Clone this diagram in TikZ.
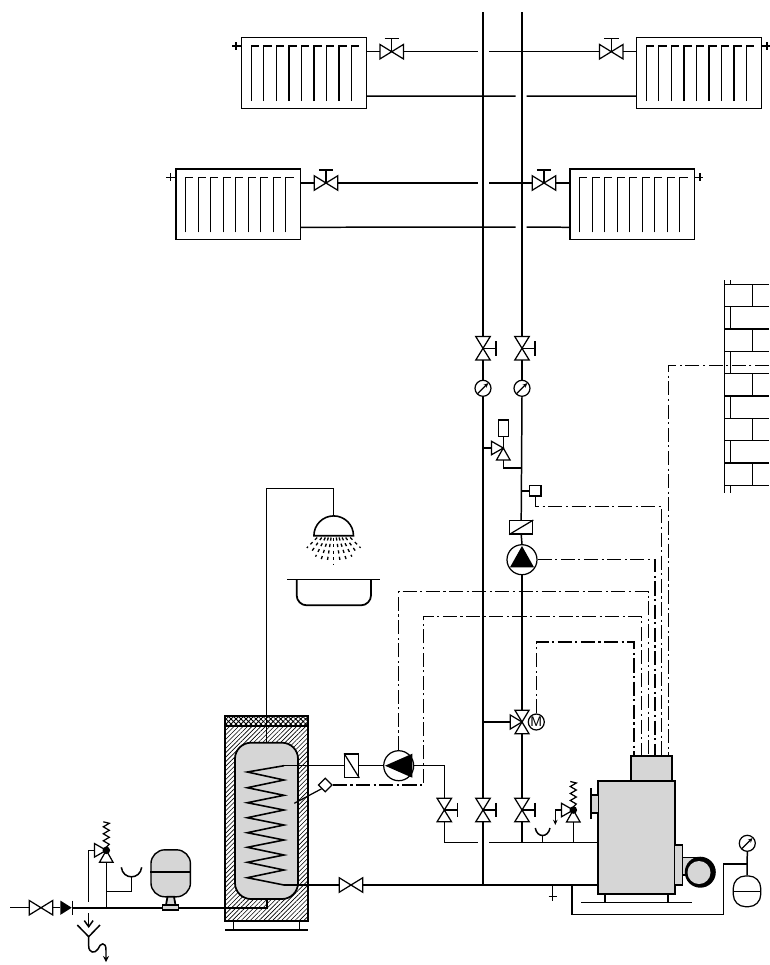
\documentclass[tikz,border=0pt]{standalone}
\usepackage{fontspec}
\setmainfont{Liberation Sans}
\usetikzlibrary{shapes,positioning,calc,patterns.meta,arrows.meta}

\definecolor{unitgray}{gray}{0.84}

\tikzset{
    pipe/.style={line width=0.85pt},
    fitting/.style={line width=0.7pt, fill=white},
    signal/.style={line width=0.6pt, dash pattern=on 8pt off 2pt on 1.2pt off 2pt},
    gaugebody/.style={draw, circle, line width=0.7pt, fill=white, inner sep=0pt, minimum size=0.32cm},
    pumpbody/.style={draw, circle, line width=0.7pt, fill=white, inner sep=0pt, minimum size=0.6cm},
    radiator/.pic={
        \draw [line width=0.9pt, fill=white] (0,0) rectangle (124.6,70.6);
        \foreach \i in {0,...,8}
            \draw [line width=0.7pt] (9.6+12.53*\i,63.3) -- (9.6+12.53*\i,8.3) -- ++(7.7,0);
        \coordinate (-vl) at (0,8.3);
        \coordinate (-vr) at (124.6,8.3);
        \coordinate (-wf) at (0,14);
        \coordinate (-ef) at (124.6,14);
        \coordinate (-wr) at (0,58.3);
        \coordinate (-er) at (124.6,58.3);
    },
    gatevalve/.pic={
        \draw [fitting] (-11.7,-7.2) -- (0,0) -- (-11.7,7.2) -- cycle;
        \draw [fitting] (11.7,-7.2) -- (0,0) -- (11.7,7.2) -- cycle;
        \coordinate (-in) at (-11.7,0);
        \coordinate (-out) at (11.7,0);
    },
    handvalve/.pic={
        \draw [line width=0.7pt] (0,0) -- (0,-13) (-7.2,-13) -- (7.2,-13);
        \draw [fitting] (-11.7,-7.2) -- (0,0) -- (-11.7,7.2) -- cycle;
        \draw [fitting] (11.7,-7.2) -- (0,0) -- (11.7,7.2) -- cycle;
        \coordinate (-in) at (-11.7,0);
        \coordinate (-out) at (11.7,0);
    },
    mixvalve/.pic={
        \draw [fitting] (-7,-11.7) -- (0,0) -- (7,-11.7) -- cycle;
        \draw [fitting] (-7,11.7) -- (0,0) -- (7,11.7) -- cycle;
        \draw [fitting] (-11.7,-7) -- (0,0) -- (-11.7,7) -- cycle;
        \coordinate (-in) at (0,-11.7);
        \coordinate (-out) at (0,11.7);
        \coordinate (-left) at (-11.7,0);
    },
    reliefvalve/.pic={
        \draw [fitting] (-11.7,-6.7) -- (0,0) -- (-11.7,6.7) -- cycle;
        \draw [fitting] (-6.8,12) -- (0,0) -- (6.8,12) -- cycle;
        \coordinate (-left) at (-11.7,0);
        \coordinate (-out) at (0,12);
    },
    safetyvalve/.pic={
        \draw [fitting] (-11.7,-6.7) -- (0,0) -- (-11.7,6.7) -- cycle;
        \draw [fitting] (-6.8,12) -- (0,0) -- (6.8,12) -- cycle;
        \draw [line width=0.7pt] (0,-3) -- (3,-6) -- (-3,-9.5) -- (3,-13) -- (-3,-16.5) -- (3,-20) -- (-3,-23.5) -- (3,-27) -- (-3,-28.5);
        \fill (0,0) circle (3.8);
        \coordinate (-left) at (-11.7,0);
        \coordinate (-out) at (0,12);
    },
    gauge/.pic={
        \node [gaugebody] (-c) at (0,0) {};
        \draw [line width=0.7pt, -{Stealth[length=2.6pt, width=2.4pt]}] (-5.2,5.2) -- (5.2,-5.2);
    }
}

\begin{document}
\begin{tikzpicture}[x=0.02cm, y=-0.02cm, pipe]
    \useasboundingbox (0,0) rectangle (769,965);

    % Radiators
    \pic (radA) at (241.7,37.7) {radiator};
    \pic (radB) at (636.7,37.7) {radiator};
    \pic (radC) at (176,169) {radiator};
    \pic (radD) at (570,169) {radiator};
    \foreach \rad in {radA,radC}
        \draw (\rad-vl) -- ++(-10,0) ++(4.3,-4) -- ++(0,8);
    \foreach \rad in {radB,radD}
        \draw (\rad-vr) -- ++(8.3,0) ++(-2.7,-4) -- ++(0,8);

    % Radiator valves
    \pic (valveA) at (391.7,51.7) {handvalve};
    \pic (valveB) at (611.3,51.7) {handvalve};
    \pic (valveC) at (326,183) {handvalve};
    \pic (valveD) at (544,183) {handvalve};

    % Radiator connections
    \draw (radA-ef) -- (valveA-in);
    \draw (valveA-out) -- (477.7,51.7);
    \draw (489,51.7) -- (valveB-in);
    \draw (valveB-out) -- (radB-wf);
    \draw (radA-er) -- (515.7,96);
    \draw (526.7,96) -- (radB-wr);
    \draw (radC-ef) -- (valveC-in);
    \draw (valveC-out) -- (477.7,183);
    \draw (489,183) -- (valveD-in);
    \draw (valveD-out) -- (radD-wf);
    \draw (radC-er) -- (515.7,227);
    \draw (526.7,227) -- (radD-wr);

    % Riser fittings
    \pic [rotate=-90] (valveE) at (483,348.3) {handvalve};
    \pic [rotate=-90] (valveF) at (522,348.3) {handvalve};
    \pic (gaugeE) at (483,388.3) {gauge};
    \pic (gaugeF) at (522,388.3) {gauge};
    \pic (relief) at (503.3,448) {reliefvalve};
    \node [draw, line width=0.7pt, inner sep=0pt, minimum width=0.2cm, minimum height=0.33cm] (actuator) at (503.3,428.3) {};
    \node [draw, line width=0.7pt, fill=white, inner sep=0pt, minimum width=0.226cm, minimum height=0.206cm] (sensor) at (535.3,490.8) {};
    \node [draw, line width=0.7pt, inner sep=0pt, minimum width=0.46cm, minimum height=0.266cm] (flowB) at (521.2,527.3) {};
    \draw [line width=0.7pt] (flowB.south west) -- (flowB.north east);
    \node [pumpbody] (pumpB) at (522,559.7) {};
    \fill (522,546) -- (534,567.3) -- (510,567.3) -- cycle;
    \pic (mixer) at (522,722) {mixvalve};
    \node [gaugebody] (motor) at (536.3,722) {\fontsize{8}{8}\selectfont M};
    \pic [rotate=-90] (valveH) at (444.3,810) {handvalve};
    \pic [rotate=-90] (valveJ) at (483,810) {handvalve};
    \pic [rotate=-90] (valveK) at (522,810) {handvalve};

    % Risers
    \draw (483,12) -- (valveE-in);
    \draw (522,12) -- (valveF-in);
    \draw (valveE-out) -- (gaugeE-c.north);
    \draw (valveF-out) -- (gaugeF-c.north);
    \draw (gaugeE-c.south) -- (valveJ-in);
    \draw (gaugeF-c.south) -- (flowB.north);
    \draw (flowB.south) -- (pumpB.north);
    \draw (pumpB.south) -- (mixer-in);
    \draw (mixer-out) -- (valveK-in);
    \draw (483,448) -- (relief-left);
    \draw (relief-out) |- (522,468);
    \draw (actuator.south) -- (503.3,448);
    \draw (522,490.8) -- (sensor.west);
    \draw (483,722) -- (mixer-left);
    \draw (valveJ-out) -- (483,885);
    \draw (valveK-out) -- (522,842.7);

    % Boiler
    \draw [line width=1pt, fill=unitgray] (631,756.3) rectangle (672.3,780.7);
    \draw [line width=1pt, fill=unitgray] (598.3,780.7) rectangle (674.7,894.3);
    \draw [line width=0.9pt, fill=unitgray] (591,795) rectangle (598.3,813);
    \draw [line width=1pt] (591,788.3) -- (591,819.3);
    \draw [line width=0.9pt, fill=unitgray] (674.7,845) rectangle (682.3,885);
    \draw [line width=0.7pt, fill=unitgray] (682.3,857.7) rectangle (701,875);
    \fill (700.3,872.2) circle (15.5);
    \fill [unitgray] (699,872.5) circle (11.5);
    \draw (605,894.3) -- (605,902.7);
    \draw (668,894.3) -- (668,902.7);
    \draw (581,902.7) -- (692.3,902.7);

    % Boiler safety group
    \pic (safetyB) at (573.3,810) {safetyvalve};
    \draw (safetyB-out) -- (573.3,842.7);
    \draw [-{Stealth[length=3pt, width=2.6pt]}] (safetyB-left) -- (555.3,810) -- (555.3,825);
    \draw (535.3,828) .. controls (537,838) and (548,838) .. (550,828);
    \draw (542.7,835.5) -- (542.7,842.7);
    \draw (552.7,885) -- (552.7,900.7);
    \draw (548.7,896.7) -- (556.7,896.7);
    \pic (gaugeM) at (747.3,843.3) {gauge};
    \node [draw, line width=0.7pt, fill=white, rounded corners=0.24cm, inner sep=0pt, minimum width=0.548cm, minimum height=0.614cm] (vesselB) at (747,891.3) {};
    \draw (vesselB.west |- 0,891.7) -- (vesselB.east |- 0,891.7);
    \draw (gaugeM-c.south) -- (vesselB.north);
    \draw (572,885) -- (572,914.7) -- (723.7,914.7) -- (723.7,864) -- (747.3,864);

    % Boiler connections
    \draw (valveH-out) -- (444.3,842.7) -- (477.7,842.7);
    \draw (489,842.7) -- (598.3,842.7);

    % Storage tank
    \filldraw [line width=1pt, fill=white, postaction={pattern={Lines[angle=45, distance=1.8pt, line width=0.35pt]}}] (225,716) rectangle (308.3,921);
    \draw [line width=1pt, fill=white, postaction={pattern={Hatch[angle=45, distance=2pt, line width=0.5pt]}}] (225,716) rectangle (308.3,725.7);
    \draw [line width=1pt, fill=unitgray, rounded corners=0.32cm] (235,742.7) rectangle (298,899);
    \draw (233.3,921) -- (233.3,930);
    \draw (299.3,921) -- (299.3,930);
    \draw (225,930) -- (308.3,930);

    % Coil
    \draw [line width=0.9pt] (284,765.7) -- (247.3,772) -- (284,780) -- (247.3,787.7) -- (284,795.3) -- (247.3,802.7) -- (284,810) -- (247.3,817.7) -- (284,825) -- (247.3,832.7) -- (284,840) -- (247.3,847.3) -- (284,855) -- (247.3,862.3) -- (284,870) -- (247.3,877.7) -- (284,885);

    % Charging circuit
    \node [draw, line width=0.7pt, inner sep=0pt, minimum width=0.28cm, minimum height=0.466cm] (flowA) at (351.7,765.7) {};
    \draw [line width=0.7pt] (flowA.north west) -- (flowA.south east);
    \node [pumpbody] (pumpC) at (398.7,765.7) {};
    \fill (385,765.7) -- (412.3,753.7) -- (412.3,777.7) -- cycle;
    \draw (284,765.7) -- (flowA.west);
    \draw (flowA.east) -- (pumpC.west);
    \draw (pumpC.east) -- (444.3,765.7) -- (valveH-in);
    \pic (valveG) at (351,885) {gatevalve};
    \draw (284,885) -- (valveG-in);
    \draw (valveG-out) -- (598.3,885);
    \node [draw, diamond, line width=0.7pt, fill=white, inner sep=0pt, minimum size=0.28cm] (probe) at (325.3,785) {};
    \draw [line width=0.7pt] (probe.south west) -- (294.3,803.3);

    % Shower
    \draw (266.7,742.7) -- (266.7,488.3) -- (333.7,488.3) -- (333.7,516);
    \draw [line width=0.9pt, fill=white] (313.9,535.7) arc (180:360:19.8) -- cycle;
    \foreach \a in {-45,-36,...,45}
        \pgfmathsetmacro{\len}{43-5*abs(\a)/45}
        \draw [shift={(333.7,521)}, line width=0.75pt, dash pattern=on 1.8pt off 1.9pt] (90+\a:{16.5/cos(\a)}) -- (90+\a:\len);
    \draw [line width=0.7pt] (287.3,579.7) -- (380,579.7);
    \draw [line width=1pt, rounded corners=0.2cm] (296.7,579.7) -- (296.7,605.3) -- (371,605.3) -- (371,579.7);

    % Cold water inlet
    \pic (valveN) at (41,907.7) {gatevalve};
    \fill (60.3,900.5) -- (71.7,907.7) -- (60.3,914.9) -- cycle;
    \draw [line width=0.8pt] (72.6,900.5) -- (72.6,914.9);
    \draw [line width=1pt] (266.7,899) -- (266.7,907.7) -- (72.6,907.7);
    \draw (60.3,907.7) -- (valveN-out);
    \draw (10,907.7) -- (valveN-in);

    % Expansion vessel
    \node [draw, line width=0.8pt, fill=unitgray, rounded corners=0.28cm, inner sep=0pt, minimum width=0.79cm, minimum height=0.94cm] (vesselA) at (170.7,873.3) {};
    \draw [line width=1.3pt] (vesselA.west |- 0,872.3) -- (vesselA.east |- 0,872.3);
    \draw [line width=1pt, fill=unitgray] (166,905) -- (167.5,896.7) -- (174,896.7) -- (175.5,905);
    \draw [line width=0.7pt, fill=unitgray] (162.5,905) rectangle (178.5,910);

    % Inlet safety group
    \pic (safetyA) at (106.3,850.3) {safetyvalve};
    \draw (safetyA-out) -- (106.3,907.7);
    \draw (safetyA-left) -- (88.7,850.3) -- (88.7,902.3);
    \draw (121.3,867.3) .. controls (123,880) and (140,880) .. (141.7,867.3);
    \draw (131.3,877) -- (131.3,891.3) -- (106.3,891.3);
    \draw [-{Straight Barb[length=3.5pt, width=5pt]}] (88.7,913.3) -- (88.7,928);
    \draw (77.3,925) -- (88.7,936.7) -- (100,925);
    \draw [-{Stealth[length=3.4pt, width=3.4pt]}] (88.7,936.7) -- (88.7,946) .. controls (88.7,953) and (95,954) .. (98,949) .. controls (100,943) and (106,941) .. (106,950) -- (106,962);

    % Wall
    \draw (724.7,280) -- (724.7,493);
    \foreach \k in {0,...,9}
        \draw (724.7,284.3+22.33*\k) -- (769,284.3+22.33*\k);
    \foreach \k in {0,2,4,6,8}
        \draw (752.3,284.3+22.33*\k) -- (752.3,306.63+22.33*\k);
    \foreach \k in {1,3,5,7}
        \draw (730.3,284.3+22.33*\k) -- (730.3,306.63+22.33*\k);
    \draw (730.3,280) -- (730.3,284.3);
    \draw (730.3,485.3) -- (730.3,493);

    % Control lines
    \coordinate (ctrlA) at (634,756.3);
    \coordinate (ctrlB) at (641.5,756.3);
    \coordinate (ctrlC) at (648.3,756.3);
    \coordinate (ctrlD) at (655,756.3);
    \coordinate (ctrlE) at (661.7,756.3);
    \coordinate (ctrlF) at (668.7,756.3);
    \coordinate (outdoor) at (769,365.7);
    \draw [signal] (motor.north) |- (634,642) -- (ctrlA);
    \draw [signal] (probe.east) -- (423.3,785) -- (423.3,616.7) -- (641.5,616.7) -- (ctrlB);
    \draw [signal] (pumpC.north) |- (648.3,591.7) -- (ctrlC);
    \draw [signal] (pumpB.east) -- (655,559.7) -- (ctrlD);
    \draw [signal] (sensor.south) |- (661.7,506.7) -- (ctrlE);
    \draw [signal] (outdoor) -- (668.7,365.7) -- (ctrlF);
\end{tikzpicture}
\end{document}
